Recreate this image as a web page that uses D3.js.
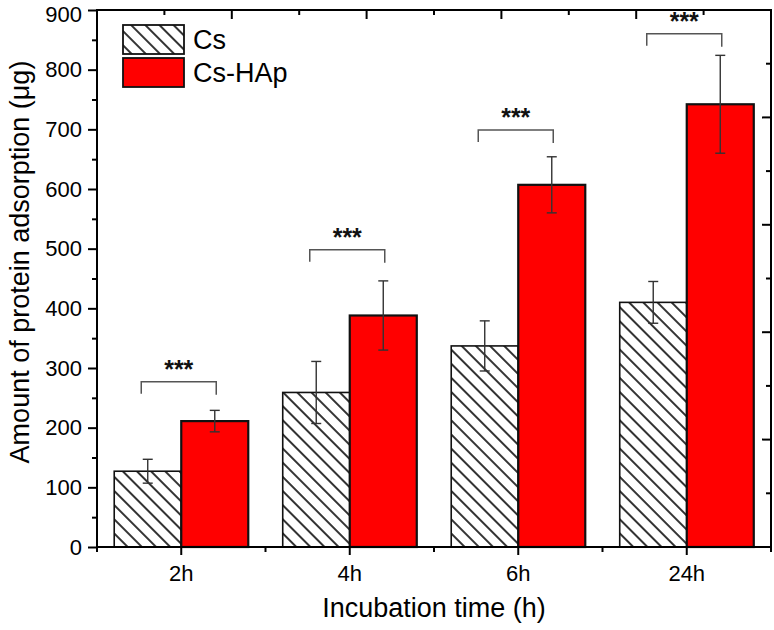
<!DOCTYPE html>
<html>
<head>
<meta charset="utf-8">
<script src="https://cdn.jsdelivr.net/npm/d3@7"></script>
<style>
  html, body { margin: 0; padding: 0; background: #fff; }
  svg { display: block; font-family: "Liberation Sans", Arial, sans-serif; }
</style>
</head>
<body>
<script>
// ---- data ----
const categories = ["2h", "4h", "6h", "24h"];
const seriesNames = ["Cs", "Cs-HAp"];
const csValues = [127, 259, 337, 410];
const csErrors = [20, 52, 42, 35];
const hapValues = [211, 388, 607, 742];
const hapErrors = [18, 58, 47, 82];
const sigLevels = [277, 498, 699, 860];
const sigLabels = ["***", "***", "***", "***"];
const yTickValues = [0, 100, 200, 300, 400, 500, 600, 700, 800, 900];
const yMinorValues = [50, 150, 250, 350, 450, 550, 650, 750, 850];
const xTitle = "Incubation time (h)";
const yTitle = "Amount of protein adsorption (\u03bcg)";

const W = 774, H = 630;
const margin = { left: 97, top: 10, right: 3, bottom: 83 };
const x0 = margin.left, x1e = W - margin.right, yTop = margin.top, yBot = H - margin.bottom;

const svg = d3.select("body").append("svg").attr("width", W).attr("height", H);

const defs = svg.append("defs");
const pat = defs.append("pattern")
  .attr("id", "hatch").attr("patternUnits", "userSpaceOnUse")
  .attr("width", 10).attr("height", 10)
  .attr("patternTransform", "rotate(-45)");
pat.append("rect").attr("width", 10).attr("height", 10).attr("fill", "#fff");
pat.append("line").attr("x1", 5).attr("y1", -1).attr("x2", 5).attr("y2", 11)
  .attr("stroke", "#000").attr("stroke-width", 1.6);

const x = d3.scaleBand().domain(categories).range([x0, x1e]).padding(0);
const xs = d3.scaleBand().domain(seriesNames).range([0, x.bandwidth()]).paddingInner(0).paddingOuter(0.257);
const y = d3.scaleLinear().domain([0, 900]).range([yBot, yTop]);

const rows = categories.map((c, i) => ({
  c,
  bars: [
    { s: "Cs", v: csValues[i], e: csErrors[i] },
    { s: "Cs-HAp", v: hapValues[i], e: hapErrors[i] }
  ],
  sig: sigLevels[i], label: sigLabels[i]
}));

// bars
const g = svg.append("g");
const grp = g.selectAll("g.cat").data(rows).join("g")
  .attr("transform", d => `translate(${x(d.c)},0)`);

grp.selectAll("rect").data(d => d.bars).join("rect")
  .attr("x", d => xs(d.s))
  .attr("width", xs.bandwidth())
  .attr("y", d => y(d.v))
  .attr("height", d => y(0) - y(d.v))
  .attr("fill", d => d.s === "Cs" ? "url(#hatch)" : "#ff0000")
  .attr("stroke", d => d.s === "Cs" ? "#111" : "#111")
  .attr("stroke-width", d => d.s === "Cs" ? 1.6 : 2.2);

// error bars
const eb = grp.selectAll("g.err").data(d => d.bars).join("g").attr("class", "err");
const cap = 5;
eb.append("line")
  .attr("x1", d => xs(d.s) + xs.bandwidth() / 2)
  .attr("x2", d => xs(d.s) + xs.bandwidth() / 2)
  .attr("y1", d => y(d.v + d.e)).attr("y2", d => y(d.v - d.e))
  .attr("stroke", "#333").attr("stroke-width", 1.4);
eb.append("line")
  .attr("x1", d => xs(d.s) + xs.bandwidth() / 2 - cap)
  .attr("x2", d => xs(d.s) + xs.bandwidth() / 2 + cap)
  .attr("y1", d => y(d.v + d.e)).attr("y2", d => y(d.v + d.e))
  .attr("stroke", "#333").attr("stroke-width", 1.4);
eb.append("line")
  .attr("x1", d => xs(d.s) + xs.bandwidth() / 2 - cap)
  .attr("x2", d => xs(d.s) + xs.bandwidth() / 2 + cap)
  .attr("y1", d => y(d.v - d.e)).attr("y2", d => y(d.v - d.e))
  .attr("stroke", "#333").attr("stroke-width", 1.4);

// significance brackets
const half = x.bandwidth() / 2;
grp.append("path")
  .attr("d", d => {
    const l = half - 40, r = half + 35, yy = y(d.sig);
    return `M${l},${yy + 12}V${yy}H${r}V${yy + 13}`;
  })
  .attr("fill", "none").attr("stroke", "#555").attr("stroke-width", 1.5);
grp.append("text")
  .attr("x", half - 2.5)
  .attr("y", d => y(d.sig) - 4)
  .attr("text-anchor", "middle")
  .attr("font-size", 25).attr("font-weight", "bold").attr("fill", "#111")
  .text(d => d.label);

// axes
const axisColor = "#000";
// left axis
const yAxis = d3.axisLeft(y).tickValues(yTickValues).tickSize(9).tickPadding(6).tickFormat(d3.format("d"));
const ya = svg.append("g").attr("transform", `translate(${x0},0)`).call(yAxis);
ya.select(".domain").remove();
ya.selectAll(".tick line").attr("stroke", axisColor).attr("stroke-width", 2);
ya.selectAll(".tick text").attr("font-size", 22).attr("fill", "#000")
  .attr("font-family", "Liberation Sans, Arial, sans-serif")
  .attr("dy", d => d === 900 ? "0.5em" : "0.32em");
const yMinor = d3.axisLeft(y).tickValues(yMinorValues).tickSize(5).tickFormat("");
const ym = svg.append("g").attr("transform", `translate(${x0},0)`).call(yMinor);
ym.select(".domain").remove();
ym.selectAll(".tick line").attr("stroke", axisColor).attr("stroke-width", 2);

// bottom axis
const xAxis = d3.axisBottom(x).tickSize(8).tickPadding(10);
const xa = svg.append("g").attr("transform", `translate(0,${yBot})`).call(xAxis);
xa.select(".domain").remove();
xa.selectAll(".tick line").attr("stroke", axisColor).attr("stroke-width", 2);
xa.selectAll(".tick text").attr("font-size", 22).attr("fill", "#000")
  .attr("font-family", "Liberation Sans, Arial, sans-serif");
// minor bottom ticks at band boundaries
const bounds = categories.map(c => x(c)).concat([x1e]);
svg.append("g").selectAll("line").data(bounds).join("line")
  .attr("x1", d => d).attr("x2", d => d)
  .attr("y1", yBot).attr("y2", yBot + 5)
  .attr("stroke", axisColor).attr("stroke-width", 2);

// top and right mirror axes (10 divisions, inward ticks)
const tx = d3.scaleLinear().domain([0, 10]).range([x0, x1e]);
const ry = d3.scaleLinear().domain([0, 10]).range([yBot, yTop]);
const divs = d3.range(1, 10);
svg.append("g").selectAll("line").data(divs).join("line")
  .attr("x1", d => tx(d)).attr("x2", d => tx(d))
  .attr("y1", yTop).attr("y2", d => yTop + (d % 2 === 0 ? 9 : 5))
  .attr("stroke", axisColor).attr("stroke-width", 2);
svg.append("g").selectAll("line").data(divs).join("line")
  .attr("y1", d => ry(d)).attr("y2", d => ry(d))
  .attr("x1", x1e).attr("x2", d => x1e - (d % 2 === 0 ? 9 : 5))
  .attr("stroke", axisColor).attr("stroke-width", 2);

// frame
svg.append("rect")
  .attr("x", x0).attr("y", yTop).attr("width", x1e - x0).attr("height", yBot - yTop)
  .attr("fill", "none").attr("stroke", axisColor).attr("stroke-width", 2);

// titles
svg.append("text")
  .attr("x", (x0 + x1e) / 2).attr("y", 617)
  .attr("text-anchor", "middle").attr("font-size", 27).attr("fill", "#000")
  .text(xTitle);
svg.append("text")
  .attr("transform", `translate(29,${262}) rotate(-90)`)
  .attr("text-anchor", "middle").attr("font-size", 27).attr("fill", "#000")
  .text(yTitle);

// legend
const legend = svg.append("g");
const legItems = [
  { s: "Cs", fill: "url(#hatch)", y: 25 },
  { s: "Cs-HAp", fill: "#ff0000", y: 58 }
];
legend.selectAll("rect").data(legItems).join("rect")
  .attr("x", 123).attr("y", d => d.y).attr("width", 61).attr("height", 29)
  .attr("fill", d => d.fill).attr("stroke", "#111").attr("stroke-width", 1.8);
legend.selectAll("text").data(legItems).join("text")
  .attr("x", 193).attr("y", d => d.y + 14.5 + 9.5)
  .attr("font-size", 27).attr("fill", "#000")
  .text(d => d.s);
</script>
</body>
</html>
